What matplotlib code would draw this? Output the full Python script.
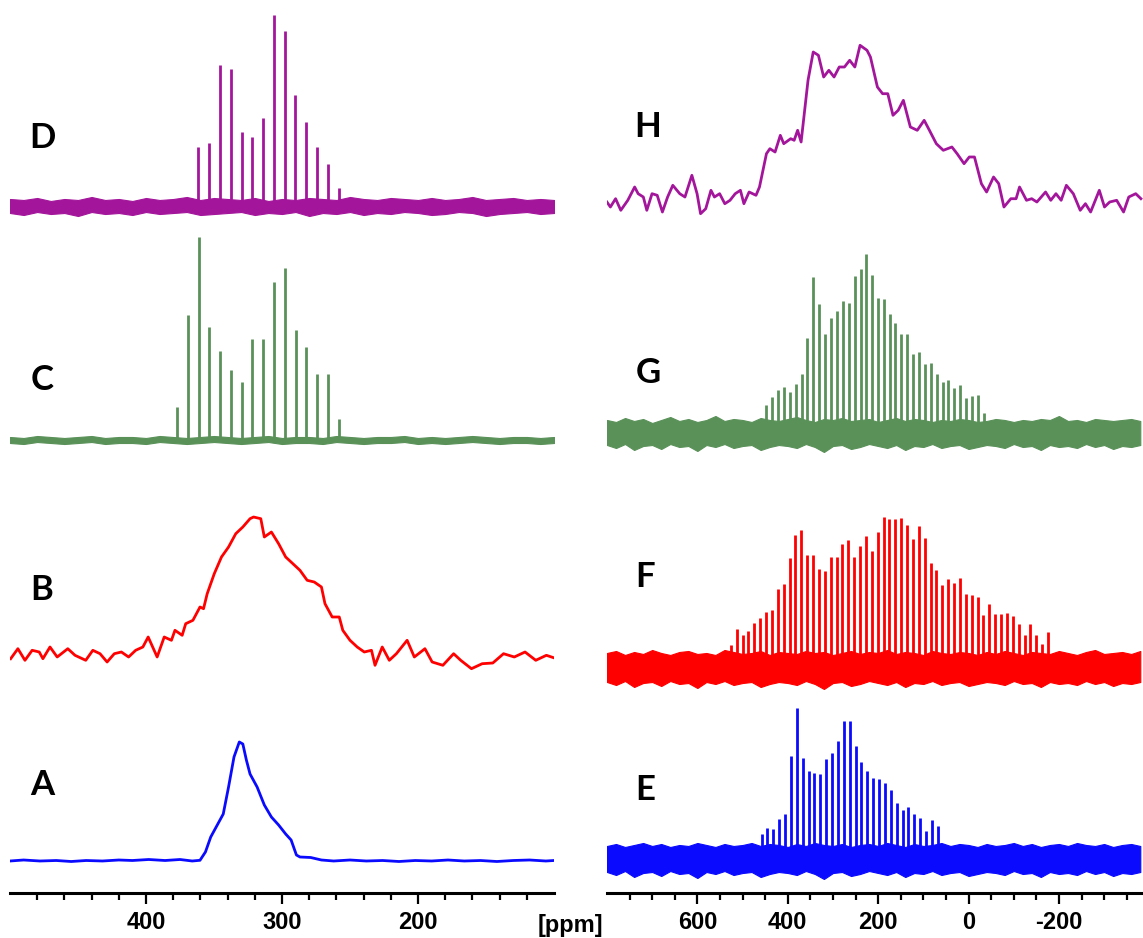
import matplotlib
matplotlib.use("Agg")
import matplotlib.pyplot as plt
from matplotlib.ticker import FixedLocator

plt.rcParams["font.family"] = ["Liberation Sans", "DejaVu Sans"]
plt.rcParams["font.weight"] = "bold"
plt.rcParams["axes.unicode_minus"] = False

# ---------------- left column (ppm 500 -> 100) ----------------
# D: spinning sidebands (magenta)
D_ppm = [361.6, 353.5, 345.6, 337.7, 329.6, 321.8, 313.9, 305.9, 298.0, 290.2,
         282.4, 274.3, 266.2, 258.3]
D_int = [59, 63, 141, 137, 74, 69, 88, 191, 175, 111, 84, 59, 42, 18]

# C: spinning sidebands (green)
C_ppm = [377.0, 369.3, 361.3, 353.5, 345.6, 337.7, 329.6, 321.8, 313.8, 305.9,
         298.0, 289.9, 282.1, 274.3, 266.2, 258.3]
C_int = [33, 125, 203, 113, 89, 70, 58, 101, 101, 158, 172, 110, 93, 66, 66, 21]

# B: broad static line (red)
B_ppm = [499.5, 494.2, 489.0, 483.7, 478.5, 475.8, 470.6, 465.3, 457.5, 452.2,
         444.3, 439.1, 433.8, 428.6, 423.3, 418.1, 412.8, 407.6, 402.3, 398.4,
         391.8, 386.6, 381.3, 378.7, 373.4, 370.8, 365.5, 360.3, 357.7, 355.0,
         349.8, 344.5, 339.3, 334.0, 328.8, 323.5, 320.9, 315.6, 313.0, 307.8,
         302.5, 297.3, 292.0, 286.8, 281.5, 276.3, 271.0, 268.4, 263.1, 257.9,
         255.3, 250.0, 244.7, 239.5, 234.2, 231.6, 226.3, 221.1, 215.9, 208.0,
         202.7, 194.9, 189.6, 181.7, 173.8, 168.6, 160.7, 152.8, 145.0, 137.1,
         129.2, 121.3, 113.4, 105.6, 100.3]
B_int = [-1.7, 8.3, -3.3, 6.7, 5, -1.7, 10, 0, 8.3, 1.7,
         -3.3, 6.7, 3.3, -5, 3.3, 5, 0, 6.7, 10, 20,
         0, 20, 16.7, 26.7, 21.7, 33.3, 36.7, 50, 48.3, 63.3,
         83.3, 100, 110, 123.3, 130, 138.3, 140, 138.3, 120, 125,
         113.3, 100, 93.3, 86.7, 76.7, 75, 70, 53.3, 40, 40,
         26.7, 16.7, 10, 5, 6.7, -8.3, 10, -3.3, 3.3, 16.7,
         0, 8.3, -5, -8.3, 3.3, -3.3, -11.7, -6.7, -6, 3.3,
         0, 5, -3.3, 1.7, -0.7]

# A: static line (blue)
A_ppm = [500, 490, 478, 466, 455, 444, 432, 420, 410, 398, 386, 375, 366,
         360.3, 356.3, 352.4, 347.2, 343.2, 339.3, 335.3, 331.4, 328.8, 326.2,
         323.5, 318.3, 313.0, 307.8, 302.5, 297.3, 293.3, 289.4, 286.8, 278.9,
         271.0, 262, 250, 238, 226, 214, 202, 190, 178, 166, 154, 142, 130, 118,
         106, 100]
A_int = [0, 1, 0, 0.5, -0.5, 0.5, 0, 1, 0.5, 1.5, 0.5, 1.5, 0,
         0.7, 9, 24, 37, 47, 74, 104, 119, 117, 101, 87, 74, 56, 44, 36, 27, 21,
         6, 4, 3.5, 1,
         0, 1, 0, 0.5, -0.5, 0.5, 0, 1, 0, 0.5, -0.5, 0.5, 1, 0, 0.5]

# baseline noise envelopes, left column
NOISE_L_PPM = list(range(500, 99, -10))
D_up = [7, 6, 8, 5, 7, 6, 9, 6, 7, 5, 8, 6, 7, 9, 6, 8, 7, 6, 8, 5,
        7, 6, 8, 7, 6, 9, 7, 6, 8, 7, 6, 8, 6, 7, 9, 6, 7, 8, 6, 7, 6]
D_lo = [-7, -9, -6, -8, -7, -10, -6, -8, -7, -9, -6, -8, -7, -6, -9, -8, -7, -6, -9, -7,
        -8, -6, -10, -7, -8, -6, -9, -7, -8, -6, -7, -9, -8, -6, -7, -10, -8, -7, -6, -8, -7]
C_up = [3, 2, 4, 3, 2, 3, 4, 2, 3, 3, 2, 4, 3, 2, 3, 4, 3, 2, 3, 4,
        2, 3, 3, 2, 4, 3, 2, 3, 3, 4, 2, 3, 2, 3, 4, 3, 2, 3, 3, 2, 3]
C_lo = [-3, -4, -2, -3, -4, -3, -2, -4, -3, -3, -4, -2, -3, -4, -3, -2, -3, -4, -3, -2,
        -4, -3, -3, -4, -2, -3, -4, -3, -3, -2, -4, -3, -4, -3, -2, -3, -4, -3, -3, -4, -3]

# ---------------- right column (ppm 800 -> -386) ----------------
H_ppm = [800.2, 792.5, 781, 769.5, 754, 738.8, 731.1, 719.6, 711.9, 700.4,
         688.9, 677.4, 665.9, 654.4, 639.0, 627.5, 612.2, 600.7, 593.0, 581.5,
         570.0, 562.3, 550.8, 539.3, 527.8, 516.3, 504.8, 497.1, 485.6, 470.3,
         462.6, 447.2, 439.6, 428.1, 416.5, 408.9, 393.5, 385.9, 378.2, 370.5,
         355.2, 343.7, 332.2, 320.6, 309.1, 297.6, 286.1, 274.6, 263.1, 251.6,
         240.1, 224.7, 217.1, 201.7, 190.2, 178.7, 167.2, 155.7, 144.2, 136.5,
         128.8, 113.5, 98.2, 86.6, 71.3, 55.9, 36.8, 25.3, 9.9, -1.6,
         -13.1, -28.4, -39.9, -55.3, -66.8, -78.3, -93.6, -105.2, -112.8, -128.2,
         -139.7, -151.2, -170.4, -181.9, -193.4, -204.9, -216.4, -231.8, -247.1, -258.6,
         -270.1, -289.3, -300.8, -312.3, -327.7, -343.0, -354.5, -369.9, -381.4]
H_int = [0, -5, 3.3, -8.3, 1.7, 15, 8.3, 5, -8.3, 8.3,
         6.7, -10, 5, 16.7, 8.3, 5, 26.7, 8.3, -11.7, -6.7,
         11.7, 5, 8.3, -1.7, 1.7, 8.3, 11.7, -1.7, 10, 6.7,
         15, 48.3, 53.3, 50, 66.7, 58.3, 63.3, 61.7, 71.7, 60,
         121.7, 150, 146.7, 125, 131.7, 125, 135, 135, 141.7, 135,
         156.7, 151.7, 145, 115, 108.3, 108.3, 86.7, 91.7, 101.7, 88.3,
         75, 71.7, 81.7, 71.7, 58.3, 51.7, 55, 48.3, 38.3, 45,
         45, 18.3, 10, 25, 18.3, -5, 3.3, 3.3, 15, 1.7,
         3.3, 0, 10, 1.7, 8.3, 1.7, 16.7, 8.3, -8.3, -1.7,
         -10, 11.7, -5, 0, 1.7, -10, 5, 8.3, 3.3]

G_ppm = [448.8, 435.0, 421.1, 408.9, 395.8, 382.0, 369.0, 356.7, 343.7, 330.6,
         316.8, 304.5, 291.5, 278.4, 265.4, 251.6, 238.5, 226.3, 213.2, 200.2,
         187.1, 174.1, 161.8, 148.8, 135.7, 122.7, 109.7, 96.6, 83.6, 70.5,
         57.5, 44.4, 31.4, 18.4, 5.3, -7.7, -20.8, -33.8]
G_int = [26.7, 35, 41.7, 45, 40, 47.7, 58.3, 94.3, 155, 128.3,
         98.3, 114.3, 121, 130.7, 129.3, 155.7, 163.3, 177.7, 156.7, 134.3,
         133.3, 117.7, 109, 97.7, 97.7, 78.3, 80, 68.3, 69.3, 58.3,
         50, 52.3, 44.3, 46.7, 34, 36, 36.7, 19]

F_ppm = [526, 513, 500, 487, 474, 461, 448, 435, 422, 409,
         396, 383, 370, 357, 344, 331, 318, 305, 292, 279,
         266, 253, 240, 227, 214, 201, 188, 175, 162, 149,
         136, 123, 110, 97, 84, 71, 58, 45, 32, 19,
         6, -7, -20, -33, -46, -59, -72, -85, -98, -111,
         -124, -137, -150, -163, -176]
F_int = [21.7, 38.3, 31.7, 36, 44.3, 49, 55, 57.3, 77.7, 83.3,
         109, 131.7, 136.7, 112.3, 112.3, 97.7, 96, 110, 110, 123.3,
         127.3, 110, 120.7, 130.7, 116, 135, 150, 148.3, 148.3, 149,
         141.7, 128.3, 141, 129, 104, 97.3, 81.7, 88.3, 84.3, 89,
         72.7, 72.3, 70, 51.7, 62.7, 53.3, 52.7, 54.3, 50.7, 42.7,
         31.7, 43.3, 31.7, 23.3, 35]

E_ppm = [458, 445, 432, 419, 406, 393, 380, 367, 354, 341,
         328, 315, 302, 289, 276, 263, 250, 237, 224, 211,
         198, 185, 172, 159, 146, 133, 120, 107, 94, 81, 68]
E_int = [22.3, 27.7, 26.7, 36.7, 42.3, 100, 147.7, 98.3, 85, 82.7,
         81.7, 97.3, 103.3, 115, 135, 135, 110, 94, 85, 78.3,
         76.7, 72.7, 66, 53.3, 45.7, 49, 42.3, 37.7, 25, 35.7, 30]

# baseline noise envelopes, right column
NOISE_R_PPM = list(range(800, -381, -20))
G_up = [12, 10, 14, 11, 13, 9, 12, 15, 11, 13, 10, 12, 16, 11, 13, 12, 10, 14, 12, 11,
        13, 15, 12, 10, 13, 12, 14, 11, 12, 13, 10, 12, 14, 11, 13, 12, 10, 12, 11, 13,
        12, 10, 11, 13, 12, 10, 12, 11, 13, 12, 16, 11, 12, 10, 13, 12, 11, 12, 13, 11]
G_lo = [-13, -16, -12, -18, -14, -13, -17, -12, -15, -14, -19, -13, -15, -12, -16, -14, -13, -18, -15, -13,
        -14, -16, -12, -15, -20, -14, -13, -17, -15, -12, -14, -16, -13, -18, -14, -15, -12, -16, -14, -13,
        -17, -15, -13, -14, -16, -12, -15, -14, -18, -13, -15, -14, -16, -12, -15, -13, -17, -14, -15, -13]
F_up = [14, 16, 12, 15, 13, 17, 14, 12, 15, 16, 13, 14, 12, 17, 15, 13, 14, 16, 12, 15,
        14, 13, 16, 14, 15, 12, 14, 16, 13, 15, 14, 17, 13, 15, 14, 12, 16, 14, 13, 15,
        14, 12, 15, 13, 16, 14, 12, 15, 14, 13, 16, 14, 12, 15, 17, 13, 14, 15, 13, 16]
F_lo = [-15, -18, -14, -20, -16, -15, -19, -14, -17, -16, -21, -15, -17, -14, -18, -16, -15, -20, -17, -15,
        -16, -18, -14, -17, -22, -16, -15, -19, -17, -14, -16, -18, -15, -20, -16, -17, -14, -18, -16, -15,
        -19, -17, -15, -16, -18, -14, -17, -16, -20, -15, -17, -16, -18, -14, -17, -15, -19, -16, -17, -15]
E_up = [10, 12, 9, 11, 13, 10, 12, 9, 11, 10, 13, 11, 9, 12, 10, 11, 13, 10, 12, 11,
        9, 12, 10, 13, 11, 10, 12, 9, 11, 12, 10, 13, 11, 9, 12, 10, 11, 13, 10, 12,
        11, 9, 12, 10, 11, 13, 10, 12, 9, 11, 12, 10, 13, 11, 10, 12, 9, 11, 12, 10]
E_lo = [-16, -19, -15, -21, -17, -16, -20, -15, -18, -17, -22, -16, -18, -15, -19, -17, -16, -21, -18, -16,
        -17, -19, -15, -18, -23, -17, -16, -20, -18, -15, -17, -19, -16, -21, -17, -18, -15, -19, -17, -16,
        -20, -18, -16, -17, -19, -15, -18, -17, -21, -16, -18, -17, -19, -15, -18, -16, -20, -17, -18, -16]

MAGENTA = "#a3169b"
GREEN = "#5a9159"
RED = "#ff0000"
BLUE = "#0a0aff"

W, H = 1143, 938
AXIS_Y = 893  # pixel row of the x-axis line

fig = plt.figure(figsize=(W / 100, H / 100), dpi=100)


def add_panel(x0, x1):
    ax = fig.add_axes([x0 / W, (H - AXIS_Y) / H, (x1 - x0) / W, AXIS_Y / H])
    ax.set_ylim(0, AXIS_Y)
    for side in ("left", "right", "top"):
        ax.spines[side].set_visible(False)
    ax.spines["bottom"].set_linewidth(2.2)
    ax.set_yticks([])
    ax.tick_params(axis="x", which="major", length=8, width=1.6, pad=5, labelsize=17)
    ax.tick_params(axis="x", which="minor", length=5, width=1.6)
    ax.patch.set_alpha(0)
    return ax


def sidebands(ax, grid, up, lo, ppm, inten, offset, color):
    ax.fill_between(grid, [offset + v for v in lo], [offset + v for v in up],
                    color=color, lw=0.8, edgecolor=color)
    ax.vlines(ppm, offset, [offset + v for v in inten], color=color, lw=2.0)


# left column
axl = add_panel(10, 554)
axl.set_xlim(500, 100)
axl.xaxis.set_major_locator(FixedLocator([400, 300, 200]))
axl.xaxis.set_minor_locator(FixedLocator(list(range(120, 481, 20))))
sidebands(axl, NOISE_L_PPM, D_up, D_lo, D_ppm, D_int, 687, MAGENTA)
sidebands(axl, NOISE_L_PPM, C_up, C_lo, C_ppm, C_int, 453, GREEN)
axl.plot(B_ppm, [236 + v for v in B_int], color=RED, lw=2.0)
axl.plot(A_ppm, [32 + v for v in A_int], color=BLUE, lw=2.0)

# right column (cut at the right edge like the original)
axr = add_panel(607, 1143)
axr.set_xlim(800, -386)
axr.xaxis.set_major_locator(FixedLocator([600, 400, 200, 0, -200]))
axr.xaxis.set_minor_locator(FixedLocator(list(range(-350, 751, 50))))
axr.plot(H_ppm, [691 + v for v in H_int], color=MAGENTA, lw=2.0)
sidebands(axr, NOISE_R_PPM, G_up, G_lo, G_ppm, G_int, 461, GREEN)
sidebands(axr, NOISE_R_PPM, F_up, F_lo, F_ppm, F_int, 226, RED)
sidebands(axr, NOISE_R_PPM, E_up, E_lo, E_ppm, E_int, 37, BLUE)

# panel letters
letters = [("D", 42, 138), ("C", 42, 380), ("B", 42, 590), ("A", 42, 785),
           ("H", 648, 127), ("G", 648, 373), ("F", 645, 577), ("E", 645, 790)]
for txt, px, py in letters:
    fig.text(px / W, 1 - py / H, txt, fontsize=25, fontweight="bold",
             family=["Lato", "DejaVu Sans"], ha="center", va="center")

fig.text(570 / W, 1 - 925 / H, "[ppm]", fontsize=17, fontweight="bold",
         ha="center", va="center")

fig.savefig("out.png", dpi=100)
